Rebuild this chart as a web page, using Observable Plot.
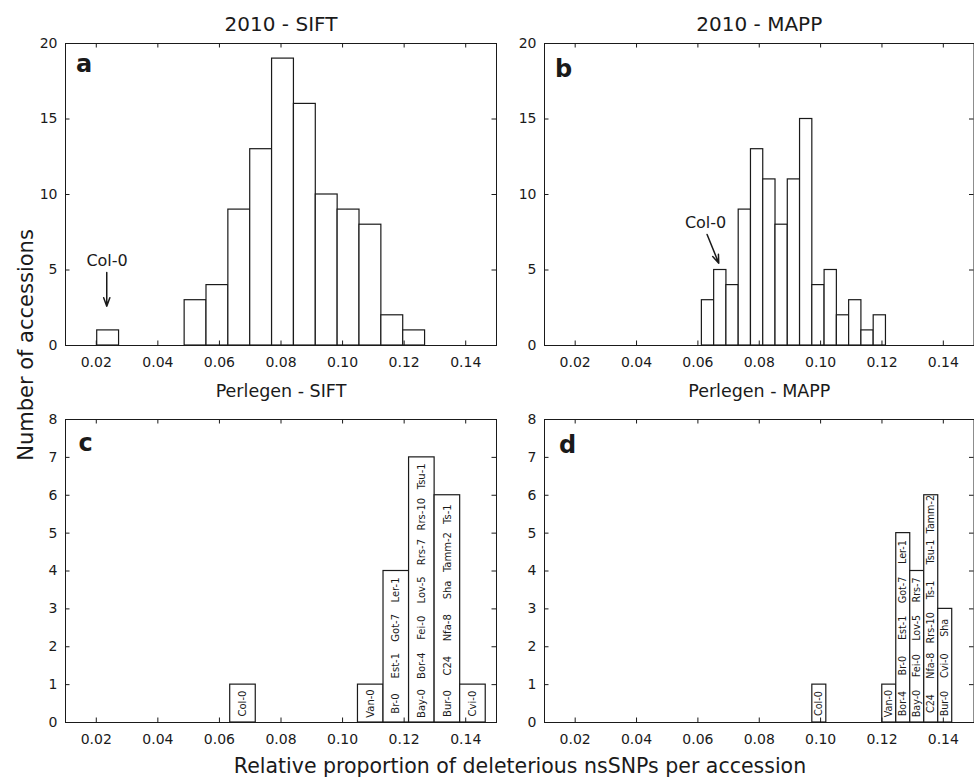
<!DOCTYPE html>
<html><head><meta charset="utf-8">
<script src="https://cdn.jsdelivr.net/npm/d3@7"></script>
<script src="https://cdn.jsdelivr.net/npm/@observablehq/plot@0.6"></script>
<style>
body{margin:0;background:#fff;}
#wrap{position:relative;width:974px;height:778px;background:#fff;overflow:hidden;font-family:"DejaVu Sans",sans-serif;}
#wrap > svg{position:absolute;}
</style></head><body><div id="wrap"></div>
<script>
// ---------- data ----------
const xTicks = [0.02, 0.04, 0.06, 0.08, 0.10, 0.12, 0.14];
const xDomain = [0.01, 0.15];
const yTicksTop = [0, 5, 10, 15, 20];
const yTicksBottom = [0, 1, 2, 3, 4, 5, 6, 7, 8];

const titles = ["2010 - SIFT", "2010 - MAPP"];
const subtitles = ["Perlegen - SIFT", "Perlegen - MAPP"];
const panelLetters = ["a", "b", "c", "d"];
const xLabel = "Relative proportion of deleterious nsSNPs per accession";
const yLabel = "Number of accessions";

// panel a : 2010 - SIFT
const siftEdges = [0.0203,0.0274,0.0345,0.0416,0.0487,0.0558,0.0629,0.0700,0.0771,0.0842,0.0913,0.0984,0.1055,0.1126,0.1197,0.1268];
const siftCounts = [1,0,0,0,3,4,9,13,19,16,10,9,8,2,1];
// panel b : 2010 - MAPP
const mappEdges = [0.0613,0.0653,0.0693,0.0733,0.0773,0.0813,0.0853,0.0893,0.0933,0.0973,0.1013,0.1053,0.1093,0.1133,0.1173,0.1213];
const mappCounts = [3,5,4,9,13,11,8,11,15,4,5,2,3,1,2];
// panel c : Perlegen - SIFT
const perlSiftEdges = [0.0635,0.0718,0.0801,0.0884,0.0967,0.1050,0.1133,0.1216,0.1299,0.1382,0.1465];
const perlSiftCounts = [1,0,0,0,0,1,4,7,6,1];
const perlSiftNames = [["Col-0"],[],[],[],[],["Van-0"],["Br-0","Est-1","Got-7","Ler-1"],["Bay-0","Bor-4","Fei-0","Lov-5","Rrs-7","Rrs-10","Tsu-1"],["Bur-0","C24","Nfa-8","Sha","Tamm-2","Ts-1"],["Cvi-0"]];
// panel d : Perlegen - MAPP
const perlMappEdges = [0.0973,0.10186,0.10642,0.11098,0.11554,0.1201,0.12466,0.12922,0.13378,0.13834,0.1429];
const perlMappCounts = [1,0,0,0,0,1,5,4,6,3];
const perlMappNames = [["Col-0"],[],[],[],[],["Van-0"],["Bor-4","Br-0","Est-1","Got-7","Ler-1"],["Bay-0","Fei-0","Lov-5","Rrs-7"],["C24","Nfa-8","Rrs-10","Ts-1","Tsu-1","Tamm-2"],["Bur-0","Cvi-0","Sha"]];

// Col-0 annotations (label position, arrow start/end in data units)
const annotSift = [{label: "Col-0", tx: 0.0235, ty: 5.63, x1: 0.0234, y1: 4.83, x2: 0.0234, y2: 2.6}];
const annotMapp = [{label: "Col-0", tx: 0.0625, ty: 8.1, x1: 0.0630, y1: 7.35, x2: 0.0668, y2: 5.45}];

// ---------- drawing ----------
const ink = "#1a1a1a";
const wrap = document.getElementById("wrap");

function panel(o) {
  const innerW = o.width - o.ml - o.mr, innerH = o.height - o.mt - o.mb;
  const bins = o.counts.map((c, i) => ({x1: o.edges[i], x2: o.edges[i + 1], c}));
  const marks = [
    Plot.rect(bins, {x1: "x1", x2: "x2", y1: 0, y2: "c", fill: "white", stroke: ink, strokeWidth: 1.2, inset: 0}),
    Plot.frame({stroke: ink, strokeWidth: 1}),
    Plot.tickX(xTicks, {x: d => d, insetTop: innerH - 4.5, stroke: ink}),
    Plot.tickX(xTicks, {x: d => d, insetBottom: innerH - 4.5, stroke: ink}),
    Plot.tickY(o.yTicks, {y: d => d, insetRight: innerW - 4.5, stroke: ink}),
    Plot.tickY(o.yTicks, {y: d => d, insetLeft: innerW - 4.5, stroke: ink}),
    Plot.axisX(xTicks, {tickSize: 0, tickPadding: 12, tickFormat: d3.format(".2f"), fontSize: 14, label: null, fill: ink}),
    Plot.axisY(o.yTicks, {tickSize: 0, tickPadding: 8, fontSize: 14, label: null, fill: ink}),
    Plot.text([o.letter], {text: d => d, frameAnchor: "top-left", dx: o.ldx, dy: o.ldy, textAnchor: "start", lineAnchor: "bottom", fontSize: 24, fontWeight: "bold", fill: ink})
  ];
  if (o.title) marks.push(Plot.text([o.title], {text: d => d, frameAnchor: "top", dy: -13, lineAnchor: "bottom", fontSize: 20, fill: ink}));
  if (o.subtitle) marks.push(Plot.text([o.subtitle], {text: d => d, frameAnchor: "bottom", dy: 51.7, lineAnchor: "bottom", fontSize: 17.5, fill: ink}));
  if (o.names) {
    const labels = [];
    o.names.forEach((arr, k) => arr.forEach((name, j) => labels.push({x: (o.edges[k] + o.edges[k + 1]) / 2, y: j + 0.5, name})));
    marks.push(Plot.text(labels, {x: "x", y: "y", text: "name", rotate: -90, fontSize: o.labelSize, textAnchor: "middle", lineAnchor: "middle", fill: ink}));
  }
  if (o.annot) {
    marks.push(Plot.text(o.annot, {x: "tx", y: "ty", text: "label", fontSize: 16, fill: ink}));
    marks.push(Plot.arrow(o.annot, {x1: "x1", y1: "y1", x2: "x2", y2: "y2", stroke: ink, strokeWidth: 1.5, headLength: 9, headAngle: 40}));
  }
  const svg = Plot.plot({
    width: o.width, height: o.height,
    marginLeft: o.ml, marginRight: o.mr, marginTop: o.mt, marginBottom: o.mb,
    x: {domain: xDomain},
    y: {domain: [0, o.yMax]},
    style: {background: "transparent", fontFamily: "DejaVu Sans, sans-serif", color: ink, overflow: "visible"},
    marks
  });
  svg.style.left = o.left + "px";
  svg.style.top = o.top + "px";
  wrap.appendChild(svg);
}

panel({left: 0, top: 0, width: 504, height: 404, ml: 65, mr: 8, mt: 43, mb: 59,
  edges: siftEdges, counts: siftCounts, yMax: 20, yTicks: yTicksTop,
  title: titles[0], subtitle: subtitles[0], letter: panelLetters[0], ldx: 10.5, ldy: 28, annot: annotSift});
panel({left: 504, top: 0, width: 470, height: 404, ml: 40, mr: 0.5, mt: 43, mb: 59,
  edges: mappEdges, counts: mappCounts, yMax: 20, yTicks: yTicksTop,
  title: titles[1], subtitle: subtitles[1], letter: panelLetters[1], ldx: 10.5, ldy: 33.5, annot: annotMapp});
panel({left: 0, top: 404, width: 504, height: 374, ml: 65, mr: 8, mt: 15, mb: 56,
  edges: perlSiftEdges, counts: perlSiftCounts, yMax: 8, yTicks: yTicksBottom,
  letter: panelLetters[2], ldx: 13, ldy: 31, names: perlSiftNames, labelSize: 10});
panel({left: 504, top: 404, width: 470, height: 374, ml: 40, mr: 0.5, mt: 15, mb: 56,
  edges: perlMappEdges, counts: perlMappCounts, yMax: 8, yTicks: yTicksBottom,
  letter: panelLetters[3], ldx: 14.5, ldy: 33.5, names: perlMappNames, labelSize: 9.6});

const ov = d3.select("#wrap").append("svg")
  .attr("width", 974).attr("height", 778)
  .style("left", "0px").style("top", "0px").style("pointer-events", "none")
  .attr("font-family", "DejaVu Sans, sans-serif").attr("fill", ink);
ov.append("text").attr("x", 520).attr("y", 773).attr("text-anchor", "middle").attr("font-size", 20.5).text(xLabel);
ov.append("text").attr("transform", "translate(33,345) rotate(-90)").attr("text-anchor", "middle").attr("font-size", 21).text(yLabel);
</script>
</body></html>
